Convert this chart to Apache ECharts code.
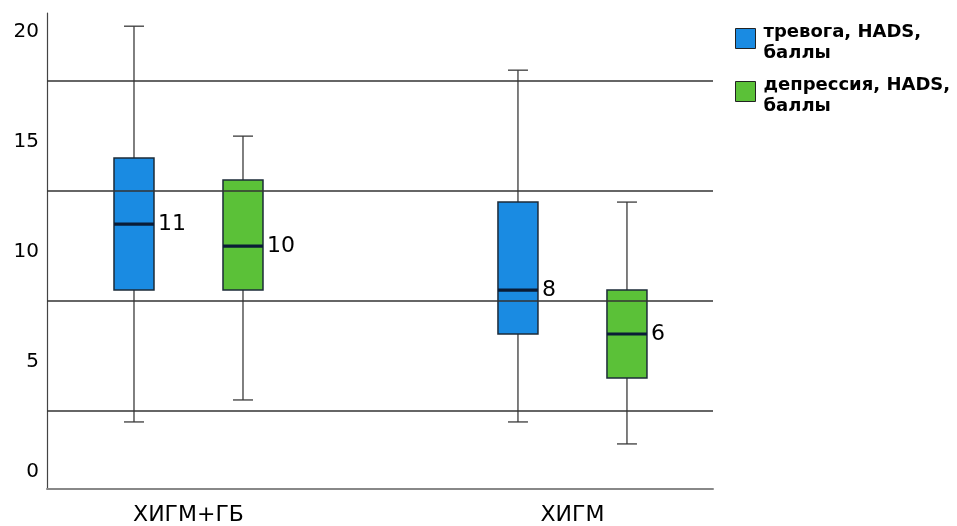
<!DOCTYPE html>
<html>
<head>
<meta charset="utf-8">
<script src="https://cdn.jsdelivr.net/npm/echarts@6/dist/echarts.min.js"></script>
<style>
  html, body { margin: 0; padding: 0; background: #fff; }
  #chart { width: 957px; height: 526px; }
</style>
</head>
<body>
<div id="chart"></div>
<script>
// Groups on the x axis (positions 1 and 2)
const groups = ['ХИГМ+ГБ', 'ХИГМ'];
const seriesNames = ['тревога, HADS, баллы', 'депрессия, HADS, баллы'];
// Legend labels broken over two lines
const legendLines = {
  'тревога, HADS, баллы': ['тревога, HADS,', 'баллы'],
  'депрессия, HADS, баллы': ['депрессия, HADS,', 'баллы']
};

// Box statistics per group: [min, Q1, median, Q3, max]
const anxiety = [
  [2, 8, 11, 14, 20],
  [2, 6, 8, 12, 18]
];
const depression = [
  [3, 8, 10, 13, 15],
  [1, 4, 6, 8, 12]
];

// Reference lines across the plot
const refLines = [2.5, 7.5, 12.5, 17.5];
const yTicks = [0, 5, 10, 15, 20];

const FONT = 'DejaVu Sans';
const colors = ['#1a8be2', '#5bc138'];

function toRows(stats) {
  return stats.map((s, i) => [i + 1].concat(s));
}

function boxRenderer(offsetPx) {
  const boxW = 40, capW = 20;
  return function (params, api) {
    const x = api.value(0);
    const pMed = api.coord([x, api.value(3)]);
    const cx = pMed[0] + offsetPx;
    const yLow = api.coord([x, api.value(1)])[1];
    const yQ1 = api.coord([x, api.value(2)])[1];
    const yQ3 = api.coord([x, api.value(4)])[1];
    const yHigh = api.coord([x, api.value(5)])[1];
    const yMed = pMed[1];
    const fill = api.visual('color');
    const wStyle = { stroke: '#3a3a3a', lineWidth: 1.3 };
    return {
      type: 'group',
      children: [
        { type: 'line', shape: { x1: cx, y1: yHigh, x2: cx, y2: yQ3 }, style: wStyle },
        { type: 'line', shape: { x1: cx, y1: yQ1, x2: cx, y2: yLow }, style: wStyle },
        { type: 'line', shape: { x1: cx - capW / 2, y1: yHigh, x2: cx + capW / 2, y2: yHigh }, style: wStyle },
        { type: 'line', shape: { x1: cx - capW / 2, y1: yLow, x2: cx + capW / 2, y2: yLow }, style: wStyle },
        { type: 'rect', shape: { x: cx - boxW / 2, y: yQ3, width: boxW, height: yQ1 - yQ3 },
          style: { fill: fill, stroke: '#1c2b38', lineWidth: 1.5 } },
        { type: 'line', shape: { x1: cx - boxW / 2, y1: yMed, x2: cx + boxW / 2, y2: yMed },
          style: { stroke: '#0a1c36', lineWidth: 3.2 } },
        { type: 'text', x: cx + boxW / 2 + 4, y: yMed,
          style: { text: String(api.value(3)), fill: '#000', font: '22px "' + FONT + '"',
                   verticalAlign: 'middle', align: 'left' } }
      ]
    };
  };
}

const chart = echarts.init(document.getElementById('chart'), null, { renderer: 'canvas' });

chart.setOption({
  animation: false,
  backgroundColor: '#fff',
  textStyle: { fontFamily: FONT },
  grid: { left: 47, right: 244, top: 13, bottom: 37, containLabel: false },
  legend: {
    orient: 'vertical',
    left: 735,
    top: 17,
    padding: 0,
    itemWidth: 20,
    itemHeight: 20,
    itemGap: 8,
    icon: 'rect',
    selectedMode: false,
    data: seriesNames,
    itemStyle: { borderColor: '#222', borderWidth: 1 },
    formatter: name => '{s|}\n{t|' + legendLines[name][0] + '}\n{t|' + legendLines[name][1] + '}',
    textStyle: {
      rich: {
        s: { lineHeight: 8, fontSize: 1 },
        t: {
          fontFamily: FONT, fontWeight: 'bold', fontSize: 18, color: '#000',
          lineHeight: 21, padding: [0, 0, 0, 3]
        }
      }
    }
  },
  xAxis: {
    type: 'value',
    min: 0.6315,
    max: 2.366,
    splitLine: { show: false },
    axisTick: { show: false },
    axisLine: { show: true, onZero: false, lineStyle: { color: '#888', width: 2 } },
    axisLabel: {
      customValues: [1, 2],
      formatter: v => groups[Math.round(v) - 1] || '',
      fontFamily: FONT, fontSize: 22, color: '#000', margin: 15
    }
  },
  yAxis: {
    type: 'value',
    min: -1.05,
    max: 20.6,
    splitLine: { show: false },
    axisTick: { show: false },
    axisLine: { show: true, onZero: false, lineStyle: { color: '#444', width: 1.2 } },
    axisLabel: {
      customValues: yTicks,
      fontFamily: FONT, fontSize: 20, color: '#000', margin: 8,
      verticalAlign: 'top', lineHeight: 12
    }
  },
  series: [
    {
      type: 'line',
      data: [],
      z: 1,
      silent: true,
      markLine: {
        silent: true,
        symbol: ['none', 'none'],
        label: { show: false },
        lineStyle: { color: '#333', width: 1.5, type: 'solid' },
        data: refLines.map(v => ({ yAxis: v }))
      }
    },
    {
      name: seriesNames[0],
      type: 'custom',
      z: 3,
      itemStyle: { color: colors[0] },
      encode: { x: 0, y: [1, 2, 3, 4, 5] },
      renderItem: boxRenderer(-54.5),
      data: toRows(anxiety)
    },
    {
      name: seriesNames[1],
      type: 'custom',
      z: 3,
      itemStyle: { color: colors[1] },
      encode: { x: 0, y: [1, 2, 3, 4, 5] },
      renderItem: boxRenderer(54.5),
      data: toRows(depression)
    }
  ]
});
</script>
</body>
</html>
